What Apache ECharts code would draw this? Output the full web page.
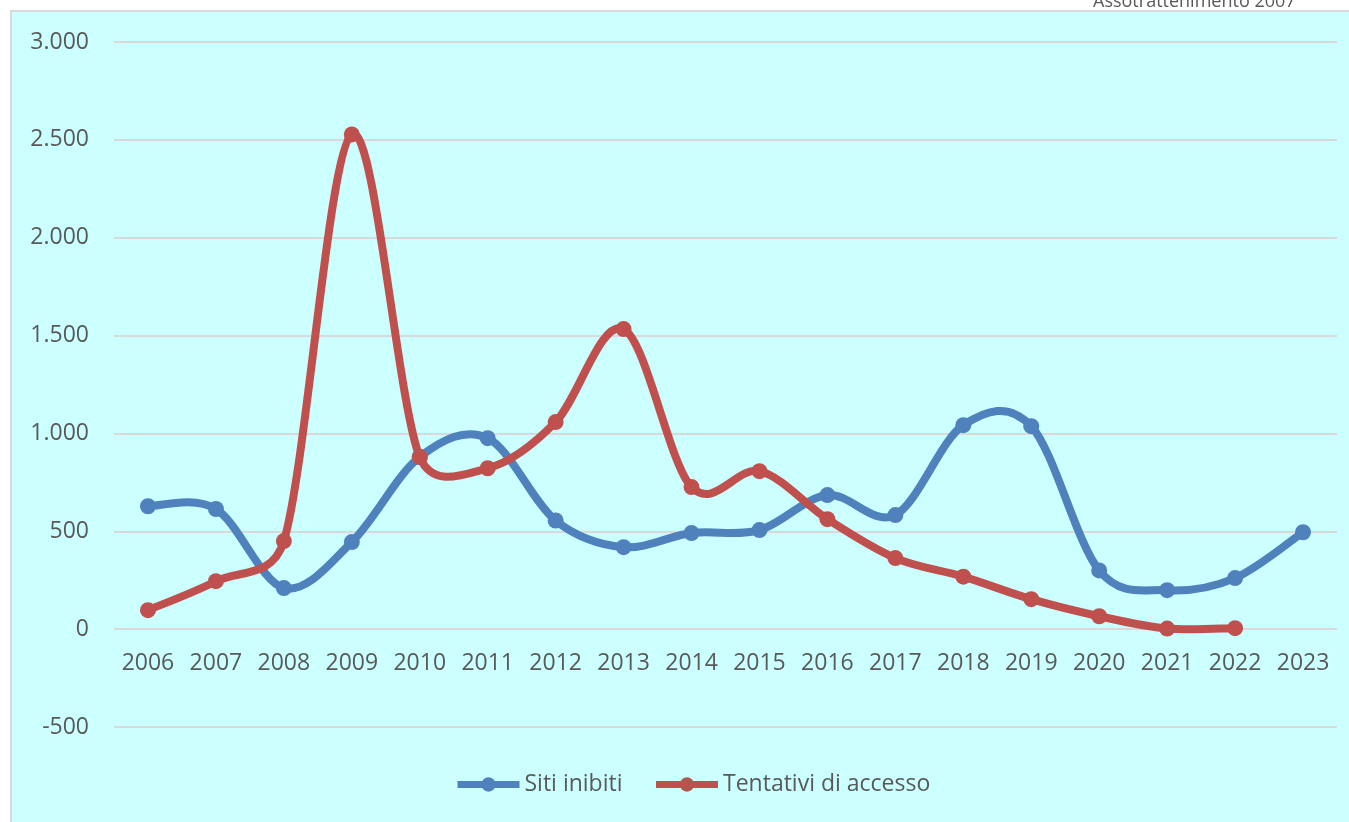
<!DOCTYPE html>
<html>
<head lang="it">
    <meta charset="UTF-8">
    <title>Siti inibiti e tentativi di accesso</title>
    <style>
        html, body { margin: 0; padding: 0; background: #fff; }
        #main { width: 1349px; height: 822px; }
    </style>
</head>
<body>
<div id="main"></div>
<script src="https://cdn.jsdelivr.net/npm/echarts@6/dist/echarts.min.js"></script>
<script>
    // anni sull'asse x
    var anni = ['2006', '2007', '2008', '2009', '2010', '2011', '2012', '2013', '2014',
        '2015', '2016', '2017', '2018', '2019', '2020', '2021', '2022', '2023'];
    // valori
    var sitiInibiti = [628, 614, 210, 445, 880, 976, 555, 419, 491, 506, 685, 583, 1042, 1037, 300, 199, 261, 495];
    var tentativiAccesso = [97, 245, 450, 2528, 879, 822, 1058, 1533, 726, 807, 562, 363, 268, 153, 66, 3, 5, null];
    var yMin = -500, yMax = 3000, yPasso = 500;

    var testo = '#595959';
    var font = '"Open Sans", sans-serif';
    var blu = '#4F81BD', rosso = '#C0504D';

    // separatore delle migliaia all'italiana
    function formatta(v) {
        var s = String(Math.abs(v)).replace(/\B(?=(\d{3})+(?!\d))/g, '.');
        return (v < 0 ? '-' : '') + s;
    }

    function dist(a, b) {
        return Math.sqrt((a[0] - b[0]) * (a[0] - b[0]) + (a[1] - b[1]) * (a[1] - b[1]));
    }

    // curva "smussata" tipo Excel: un tratto di bezier fra i e i+1
    function tratto(valori, colore) {
        return function (params, api) {
            var i = api.value(0);
            var n = valori.length;
            function punto(k) {
                k = Math.max(0, Math.min(k, n - 1));
                if (valori[k] == null) k = k - 1;
                return api.coord([k, valori[k]]);
            }
            var p0 = punto(i - 1), p1 = punto(i), p2 = punto(i + 1), p3 = punto(i + 2);
            var d12 = dist(p1, p2), d02 = dist(p0, p2), d13 = dist(p1, p3);
            // tangenti limitate a metà del tratto
            var f1 = d02 > 0 ? Math.min(1 / 6, d12 / (2 * d02)) : 0;
            var f2 = d13 > 0 ? Math.min(1 / 6, d12 / (2 * d13)) : 0;
            return {
                type: 'bezierCurve',
                shape: {
                    x1: p1[0], y1: p1[1],
                    cpx1: p1[0] + (p2[0] - p0[0]) * f1, cpy1: p1[1] + (p2[1] - p0[1]) * f1,
                    cpx2: p2[0] - (p3[0] - p1[0]) * f2, cpy2: p2[1] - (p3[1] - p1[1]) * f2,
                    x2: p2[0], y2: p2[1]
                },
                style: { stroke: colore, lineWidth: 8, fill: null, lineCap: 'round' }
            };
        };
    }
    function datiTratti(valori) {
        var out = [];
        for (var i = 0; i < valori.length - 1; i++) {
            if (valori[i] != null && valori[i + 1] != null) out.push([i, valori[i]]);
        }
        return out;
    }

    var myChart = echarts.init(document.getElementById('main'));
    var option = {
        backgroundColor: '#fff',
        animation: false,
        textStyle: { fontFamily: font },
        graphic: [
            {
                type: 'text', left: 1093, top: -7, z: 1,
                style: { text: 'Assotrattenimento 2007', fill: testo, font: '18px ' + font }
            },
            {
                type: 'rect', left: 10, top: 10, z: 2,
                shape: { width: 1345, height: 820 },
                style: { fill: '#CCFFFF', stroke: '#d9d9d9', lineWidth: 2 }
            }
        ],
        grid: { left: 114, right: 12, top: 42, bottom: 95, z: 5 },
        legend: {
            left: 449,
            top: 768,
            itemWidth: 62,
            itemHeight: 18,
            itemGap: 30,
            z: 6,
            lineStyle: { width: 7, opacity: 1 },
            textStyle: { color: testo, fontSize: 23, fontFamily: font },
            data: ['Siti inibiti', 'Tentativi di accesso']
        },
        xAxis: {
            type: 'category',
            data: anni,
            z: 5,
            offset: -97.9,
            axisLine: { show: false, onZero: false },
            axisTick: { show: false },
            axisLabel: { interval: 0, margin: 23, color: testo, fontSize: 23, fontFamily: font }
        },
        yAxis: {
            type: 'value',
            min: yMin,
            max: yMax,
            interval: yPasso,
            z: 5,
            axisLine: { show: false },
            axisTick: { show: false },
            axisLabel: {
                margin: 25, color: testo, fontSize: 23, fontFamily: font,
                formatter: formatta
            },
            splitLine: { lineStyle: { color: '#d9d9d9', width: 2 } }
        },
        series: [
            {
                name: 'curva blu',
                type: 'custom',
                z: 6,
                renderItem: tratto(sitiInibiti, blu),
                encode: { x: 0, y: 1 },
                data: datiTratti(sitiInibiti)
            },
            {
                name: 'curva rossa',
                type: 'custom',
                z: 7,
                renderItem: tratto(tentativiAccesso, rosso),
                encode: { x: 0, y: 1 },
                data: datiTratti(tentativiAccesso)
            },
            {
                name: 'Siti inibiti',
                type: 'line',
                z: 8,
                data: sitiInibiti,
                symbol: 'circle',
                symbolSize: 16,
                color: blu,
                lineStyle: { width: 7, opacity: 0 },
                itemStyle: { color: blu }
            },
            {
                name: 'Tentativi di accesso',
                type: 'line',
                z: 9,
                data: tentativiAccesso,
                symbol: 'circle',
                symbolSize: 16,
                color: rosso,
                lineStyle: { width: 7, opacity: 0 },
                itemStyle: { color: rosso }
            }
        ]
    };
    myChart.setOption(option);
</script>
</body>
</html>
